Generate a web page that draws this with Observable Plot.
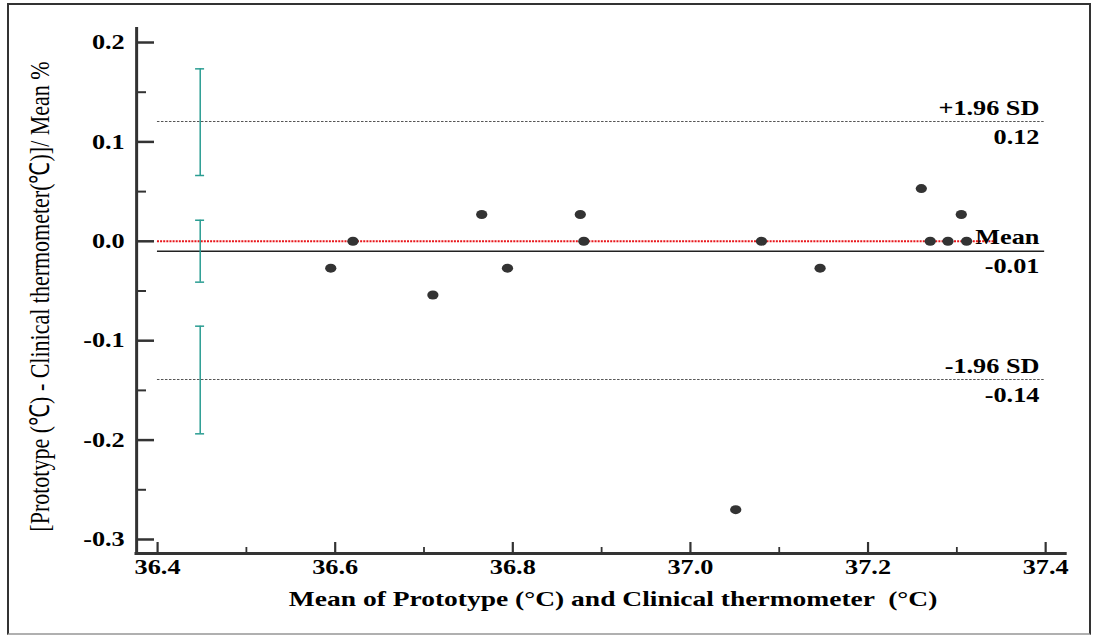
<!DOCTYPE html>
<html><head><meta charset="utf-8">
<script src="https://cdn.jsdelivr.net/npm/d3@7"></script>
<script src="https://cdn.jsdelivr.net/npm/@observablehq/plot@0.6"></script>
<style>
html,body{margin:0;padding:0;background:#fff;}
#wrap{position:relative;width:1094px;height:635px;overflow:hidden;background:#fff;}
#chart{position:absolute;left:0;top:0;width:875px;transform-origin:0 0;transform:scaleX(1.250286);}
#border{position:absolute;left:7px;top:3px;width:1084px;height:632px;border:2px solid #333;border-bottom-color:#b0b0b0;box-sizing:border-box;pointer-events:none;}
</style></head><body>
<div id="wrap"><div id="chart"></div><div id="border"></div></div>
<script>
const meanX   = [36.595, 36.620, 36.710, 36.765, 36.794, 36.876, 36.880, 37.051, 37.080, 37.146, 37.260, 37.270, 37.290, 37.305, 37.311];
const diffPct = [-0.027, 0.000, -0.054, 0.027, -0.027, 0.027, 0.000, -0.270, 0.000, -0.027, 0.053, 0.000, 0.000, 0.027, 0.000];

const xTicks = [36.4, 36.6, 36.8, 37.0, 37.2, 37.4];
const xMinor = [36.5, 36.7, 36.9, 37.1, 37.3];
const yTicks = [-0.3, -0.2, -0.1, 0.0, 0.1, 0.2];
const yMinor = [-0.25, -0.15, -0.05, 0.05, 0.15];

const limitNames  = ["+1.96 SD", "Mean", "-1.96 SD"];
const limitValues = [0.1206, -0.0100, -0.1390];
const limitLabels = ["0.12", "-0.01", "-0.14"];

const ciLow  = [0.0662, -0.0411, -0.1937];
const ciHigh = [0.1735, 0.0212, -0.0854];
const ciX = 36.448;

const xDomain = [36.3764, 37.4244];
const yDomain = [-0.3141, 0.2151];
const lineSpan = [36.4, 37.399];
const zeroSpan = [36.4, 37.346];
const labelX = 37.393;

const xTitle = "Mean of Prototype (°C) and Clinical thermometer  (°C)";
const yTitle = "[Prototype (℃) - Clinical thermometer(℃)]/ Mean %";

// layout (SVG is drawn narrower, then stretched horizontally like the reference image)
const W = 875, H = 635;
const s = 1094 / W;
const mL = 136 / s, mR = W - 1066.7 / s, mT = 27, mB = 82;
const plotW = W - mL - mR, plotH = H - mT - mB;
const capHalf = 4.5 / 888;
const teal = "#2a9d92";
const axisColor = "#333";

const points = meanX.map((x, i) => ({x, y: diffPct[i]}));
const cis = ciLow.map((lo, i) => ({lo, hi: ciHigh[i]}));
const caps = [...ciLow, ...ciHigh];

const chart = Plot.plot({
  width: W, height: H,
  marginLeft: mL, marginRight: mR, marginTop: mT, marginBottom: mB,
  x: {domain: xDomain, axis: null},
  y: {domain: yDomain, axis: null},
  style: {fontFamily: "'Liberation Serif', 'Times New Roman', serif", fontSize: "21px", color: "#000", background: "#fff", overflow: "visible"},
  marks: [
    // limits of agreement
    Plot.ruleY([limitValues[0], limitValues[2]], {x1: () => lineSpan[0], x2: () => lineSpan[1], stroke: "#555", strokeWidth: 1, strokeDasharray: "2,1.2"}),
    Plot.ruleY([0], {x1: () => zeroSpan[0], x2: () => zeroSpan[1], stroke: "#e8161b", strokeWidth: 2, strokeDasharray: "1.6,0.9"}),
    Plot.ruleY([limitValues[1]], {x1: () => lineSpan[0], x2: () => lineSpan[1], stroke: "#222", strokeWidth: 1.5}),
    // confidence intervals
    Plot.ruleX(cis, {x: () => ciX, y1: "lo", y2: "hi", stroke: teal, strokeWidth: 1.5 / s}),
    Plot.ruleY(caps, {y: d => d, x1: () => ciX - capHalf, x2: () => ciX + capHalf, stroke: teal, strokeWidth: 1.5}),
    // points
    Plot.dot(points, {x: "x", y: "y", r: 4.5, fill: "#333", stroke: "none"}),
    // axes lines
    Plot.ruleX([xDomain[0]], {stroke: axisColor, strokeWidth: 3 / s, insetBottom: -1.5}),
    Plot.ruleY([yDomain[0]], {stroke: axisColor, strokeWidth: 3, insetLeft: -1.2}),
    // ticks (inward)
    Plot.tickX(xTicks, {x: d => d, insetTop: plotH - 11, stroke: axisColor, strokeWidth: 2.2 / s}),
    Plot.tickX(xMinor, {x: d => d, insetTop: plotH - 6, stroke: axisColor, strokeWidth: 1.8 / s}),
    Plot.tickY(yTicks, {y: d => d, insetRight: plotW - 18 / s, stroke: axisColor, strokeWidth: 2.5}),
    Plot.tickY(yMinor, {y: d => d, insetRight: plotW - 10 / s, stroke: axisColor, strokeWidth: 2}),
    // tick labels
    Plot.text(xTicks, {x: d => d, frameAnchor: "bottom", dy: 20, text: d => d.toFixed(1), fontWeight: "bold", fontSize: 21, fill: "#000"}),
    Plot.text(yTicks, {y: d => d, frameAnchor: "left", dx: -9.5, textAnchor: "end", text: d => d.toFixed(1), fontWeight: "bold", fontSize: 21, fill: "#000"}),
    // limit labels
    Plot.text(limitNames, {x: () => labelX, y: (d, i) => limitValues[i], dy: -13.5, textAnchor: "end", text: d => d, fontWeight: "bold", fontSize: 21, fill: "#000"}),
    Plot.text(limitLabels, {x: () => labelX, y: (d, i) => limitValues[i], dy: 15.5, textAnchor: "end", text: d => d, fontWeight: "bold", fontSize: 21, fill: "#000"}),
    // axis titles
    Plot.text([xTitle], {frameAnchor: "bottom", dy: 52, dx: 8.9, text: d => d, fontWeight: "bold", fontSize: 22, fill: "#000"}),
    Plot.text([yTitle], {frameAnchor: "left", textAnchor: "middle", dx: -76.8, dy: 6, rotate: -90, text: d => d, fontWeight: "normal", fontSize: 22, fill: "#000"})
  ]
});
document.getElementById("chart").append(chart);
</script>
</body></html>
